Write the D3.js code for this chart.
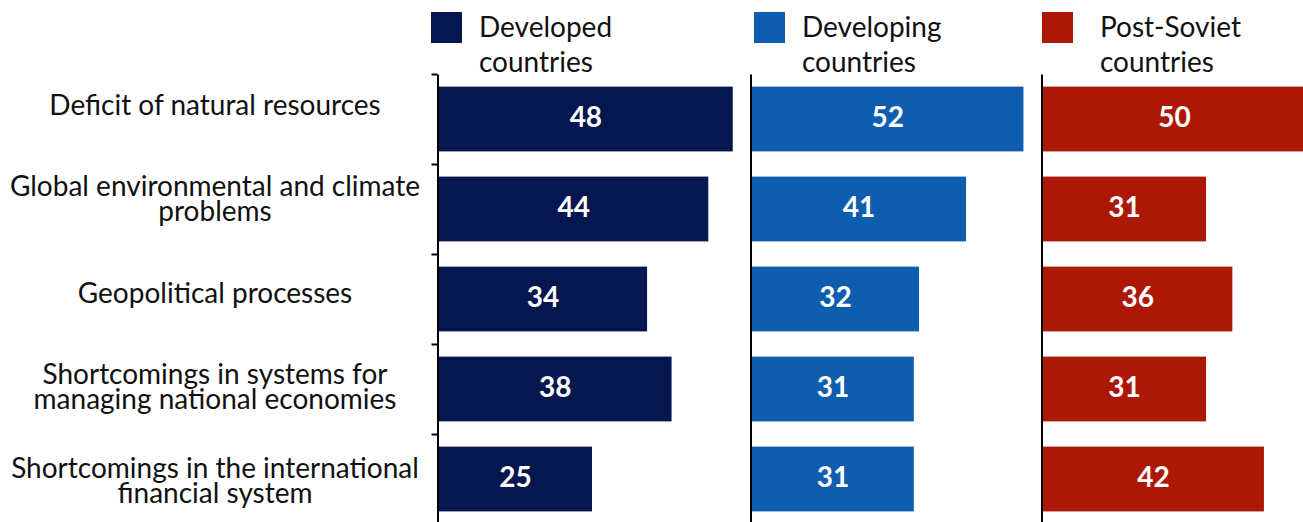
<!DOCTYPE html>
<html>
<head>
<meta charset="utf-8">
<script src="https://cdn.jsdelivr.net/npm/d3@7"></script>
<style>
  html, body { margin: 0; padding: 0; background: #fff; }
  svg { display: block; }
  text { font-family: Lato, "Open Sans", sans-serif; }
</style>
</head>
<body>
<svg id="chart" width="1303" height="522"></svg>
<script>
// Factors, each label split into its printed lines
const categories = [
  "Deficit of natural resources",
  "Global environmental and climate problems",
  "Geopolitical processes",
  "Shortcomings in systems for managing national economies",
  "Shortcomings in the international financial system"
];
const categoryLines = [
  ["Deficit of natural resources"],
  ["Global environmental and climate", "problems"],
  ["Geopolitical processes"],
  ["Shortcomings in systems for", "managing national economies"],
  ["Shortcomings in the international", "financial system"]
];

// Groups of countries
const groups = ["Developed countries", "Developing countries", "Post-Soviet countries"];
const groupLines = [["Developed", "countries"], ["Developing", "countries"], ["Post-Soviet", "countries"]];

// Values, %
const developed  = [48, 44, 34, 38, 25];
const developing = [52, 41, 32, 31, 31];
const postSoviet = [50, 31, 36, 31, 42];
const seriesValues = [developed, developing, postSoviet];

// Panel layout
const colors = ["#05174e", "#0e5daf", "#ad1806"];
const panelLeft = [439, 752, 1043];
const panelWidth50 = [306, 261, 263];   // pixel length of 50 units in each panel
const legendSquareX = [431, 754, 1042];
const legendTextX = [479, 802, 1100];

const svg = d3.select("#chart");

const y = d3.scaleBand()
  .domain(categories)
  .range([74, 524])
  .paddingInner(0.28)
  .paddingOuter(0.14);

// boundary scale for the row separators on the first axis
const yRows = d3.scaleLinear().domain([0, categories.length]).range([74, 524]);

const labelY = d3.scalePoint().domain(categories).range([106, 481]);

groups.forEach((g, gi) => {
  const x = d3.scaleLinear().domain([0, 50])
    .range([panelLeft[gi], panelLeft[gi] + panelWidth50[gi]]);
  const panel = svg.append("g").attr("class", "panel");

  // bars
  panel.selectAll("rect.bar")
    .data(seriesValues[gi])
    .join("rect")
    .attr("class", "bar")
    .attr("x", x(0))
    .attr("y", (d, i) => y(categories[i]))
    .attr("width", d => x(d) - x(0))
    .attr("height", y.bandwidth())
    .attr("fill", colors[gi]);

  // value labels
  panel.selectAll("text.value")
    .data(seriesValues[gi])
    .join("text")
    .attr("class", "value")
    .attr("x", d => (x(0) + x(d)) / 2)
    .attr("y", (d, i) => y(categories[i]) + y.bandwidth() / 2 + 8)
    .attr("text-anchor", "middle")
    .attr("fill", "#fff")
    .attr("font-weight", 700)
    .attr("font-size", 28)
    .text(d => d);

  // vertical axis line
  const axis = d3.axisLeft(yRows)
    .tickValues(gi === 0 ? d3.range(categories.length) : [])
    .tickSize(gi === 0 ? 6 : 0)
    .tickSizeOuter(0)
    .tickFormat("");
  const ax = svg.append("g")
    .attr("transform", `translate(${x(0) - 1.5},0)`)
    .call(axis);
  ax.selectAll("path, line").attr("stroke", "#000").attr("stroke-width", 2);

  // legend
  const lg = svg.append("g").attr("class", "legend");
  lg.append("rect")
    .attr("x", legendSquareX[gi]).attr("y", 12)
    .attr("width", 31).attr("height", 31)
    .attr("fill", colors[gi]);
  lg.append("text")
    .attr("x", legendTextX[gi]).attr("y", 37)
    .attr("font-size", 28)
    .attr("fill", "#111")
    .selectAll("tspan")
    .data(groupLines[gi])
    .join("tspan")
    .attr("x", legendTextX[gi])
    .attr("dy", (d, i) => i === 0 ? 0 : 35)
    .text(d => d);
});

// category labels
svg.append("g").selectAll("text")
  .data(categories)
  .join("text")
  .attr("text-anchor", "middle")
  .attr("font-size", 28)
  .attr("fill", "#111")
  .each(function(c, i) {
    const lines = categoryLines[i];
    const lh = 25;
    const first = labelY(c) + 9 - (lines.length - 1) * lh / 2;
    d3.select(this).selectAll("tspan")
      .data(lines)
      .join("tspan")
      .attr("x", 215)
      .attr("y", (d, j) => first + j * lh)
      .text(d => d);
  });
</script>
</body>
</html>
